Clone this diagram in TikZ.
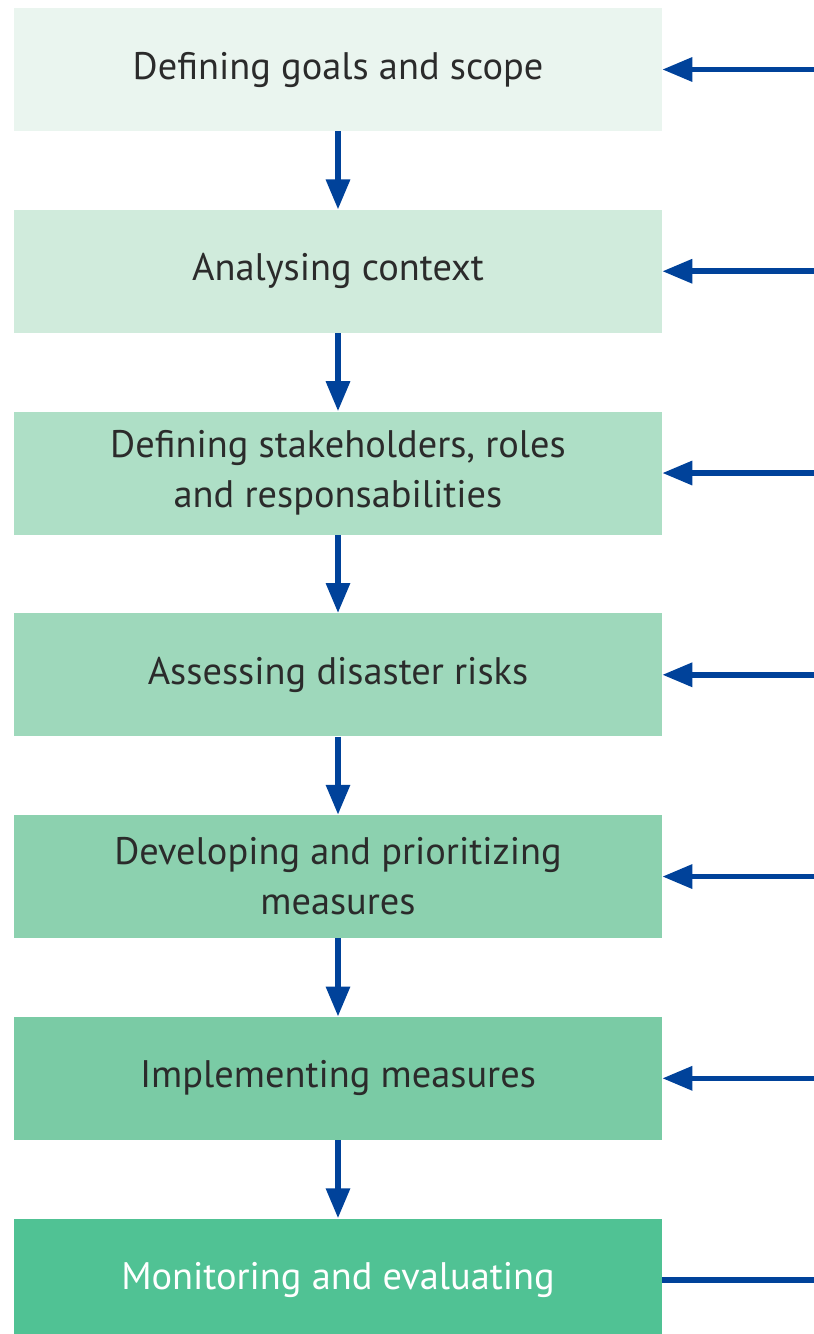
\documentclass[tikz,border=0pt]{standalone}
\usepackage{fontspec}
\setmainfont{PT Sans}
\usetikzlibrary{positioning,arrows.meta}

\definecolor{arrowblue}{HTML}{00429A}
\definecolor{textgray}{HTML}{2B2B2B}
\definecolor{step1}{HTML}{EAF5EF}
\definecolor{step2}{HTML}{D0EBDC}
\definecolor{step3}{HTML}{AEDFC6}
\definecolor{step4}{HTML}{9ED8BB}
\definecolor{step5}{HTML}{8CD1AF}
\definecolor{step6}{HTML}{7ACBA5}
\definecolor{step7}{HTML}{50C294}

\begin{document}
\begin{tikzpicture}[-{Triangle[length=0.75cm,width=0.58cm]}, node distance=1.955cm,
    box/.style={rectangle, minimum width=16.2cm, minimum height=3.075cm, inner sep=0pt,
        align=center, text=textgray, font=\fontsize{27.3}{35.5}\selectfont},
    flow/.style={draw=arrowblue, line width=0.14cm}]

                \useasboundingbox (0,0) rectangle (20.325,-33.35);

                % Nodes
                \node (goals) [box, fill=step1] at (8.45,-1.7375) {Defining goals and scope};
                \node[below=of goals] (context) [box, fill=step2] {Analysing context};
                \node[below=of context] (stake) [box, fill=step3] {Defining stakeholders, roles\\and responsabilities};
                \node[below=of stake] (risks) [box, fill=step4] {Assessing disaster risks};
                \node[below=of risks] (measures) [box, fill=step5] {Developing and prioritizing\\measures};
                \node[below=of measures] (implement) [box, fill=step6] {Implementing measures};
                \node[below=of implement] (monitor) [box, fill=step7, text=white] {Monitoring and evaluating};

                % Right edge
                \coordinate (edge) at (20.4,0);

                % Steps
                \draw[flow] (goals) -- (context);
                \draw[flow] (context) -- (stake);
                \draw[flow] (stake) -- (risks);
                \draw[flow] (risks) -- (measures);
                \draw[flow] (measures) -- (implement);
                \draw[flow] (implement) -- (monitor);

                % Feedback
                \draw[flow] (goals -| edge) -- (goals.east);
                \draw[flow] (context -| edge) -- (context.east);
                \draw[flow] (stake -| edge) -- (stake.east);
                \draw[flow] (risks -| edge) -- (risks.east);
                \draw[flow] (measures -| edge) -- (measures.east);
                \draw[flow] (implement -| edge) -- (implement.east);
                \draw[flow, -] (monitor -| edge) -- (monitor.east);

            \end{tikzpicture}
\end{document}
